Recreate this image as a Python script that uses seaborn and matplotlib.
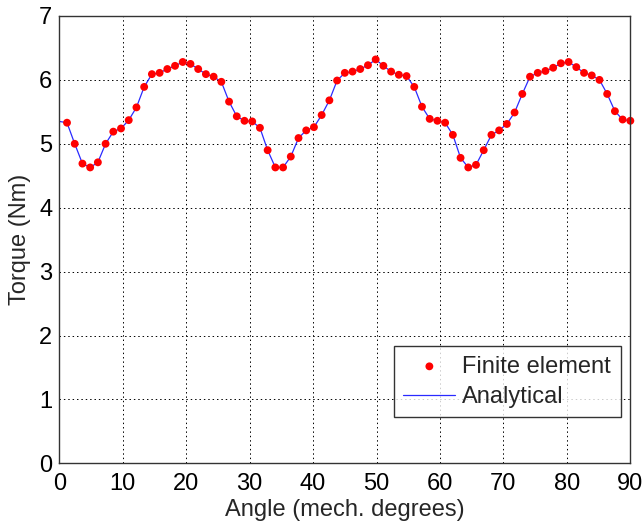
import numpy as np
import pandas as pd
import matplotlib
matplotlib.use("Agg")
import matplotlib.pyplot as plt
import seaborn as sns

# Angles (mech. degrees): 75 samples from 0 to 90
angle = [0.0, 1.216, 2.432, 3.649, 4.865, 6.081, 7.297, 8.514, 9.730, 10.946,
         12.162, 13.378, 14.595, 15.811, 17.027, 18.243, 19.459, 20.676, 21.892, 23.108,
         24.324, 25.541, 26.757, 27.973, 29.189, 30.405, 31.622, 32.838, 34.054, 35.270,
         36.486, 37.703, 38.919, 40.135, 41.351, 42.568, 43.784, 45.000, 46.216, 47.432,
         48.649, 49.865, 51.081, 52.297, 53.514, 54.730, 55.946, 57.162, 58.378, 59.595,
         60.811, 62.027, 63.243, 64.459, 65.676, 66.892, 68.108, 69.324, 70.541, 71.757,
         72.973, 74.189, 75.405, 76.622, 77.838, 79.054, 80.270, 81.486, 82.703, 83.919,
         85.135, 86.351, 87.568, 88.784, 90.0]

torque = [5.35, 5.33, 5.00, 4.69, 4.63, 4.71, 5.00, 5.19, 5.24, 5.37,
          5.57, 5.89, 6.09, 6.11, 6.17, 6.22, 6.28, 6.25, 6.17, 6.09,
          6.05, 5.97, 5.66, 5.43, 5.36, 5.35, 5.25, 4.90, 4.63, 4.63,
          4.80, 5.09, 5.21, 5.26, 5.45, 5.68, 5.99, 6.11, 6.13, 6.17,
          6.23, 6.32, 6.22, 6.13, 6.08, 6.06, 5.89, 5.58, 5.39, 5.36,
          5.33, 5.14, 4.78, 4.63, 4.67, 4.90, 5.14, 5.21, 5.31, 5.49,
          5.78, 6.05, 6.11, 6.14, 6.19, 6.26, 6.28, 6.20, 6.11, 6.07,
          6.00, 5.78, 5.51, 5.38, 5.36]

x_ticks = [0, 10, 20, 30, 40, 50, 60, 70, 80, 90]
y_ticks = [0, 1, 2, 3, 4, 5, 6, 7]

df_line = pd.DataFrame({"angle": angle, "torque": torque})
df_fe = df_line.iloc[1:]

sns.set_theme(style="white")
plt.rcParams['font.family'] = ['Liberation Sans', 'DejaVu Sans']

FS = 17

fig = plt.figure(figsize=(6.43, 5.24), dpi=100)
ax = fig.add_axes([0.0922, 0.1158, 0.8881, 0.8537])

sns.lineplot(data=df_line, x="angle", y="torque", ax=ax, color="#2a2aff",
             linewidth=0.9, label="Analytical", zorder=2, estimator=None, sort=False)
sns.scatterplot(data=df_fe, x="angle", y="torque", ax=ax, color="red",
                s=32, edgecolor="none", label="Finite element", zorder=3,
                clip_on=False)

ax.set_xlim(0, 90)
ax.set_ylim(0, 7)
ax.set_xticks(x_ticks)
ax.set_yticks(y_ticks)
ax.grid(True, color="black", linestyle=(0, (1.5, 3)), linewidth=0.7)
for s in ax.spines.values():
    s.set_visible(True)
    s.set_color("#333333")
    s.set_linewidth(1.0)
    s.set_zorder(4)
ax.tick_params(axis="both", which="both", direction="in", length=0,
               labelsize=FS, colors="black")
ax.tick_params(axis="x", pad=7)
ax.tick_params(axis="y", pad=5)
ax.set_xlabel("Angle (mech. degrees)", fontsize=FS, labelpad=3)
ax.set_ylabel("Torque (Nm)", fontsize=FS, labelpad=6)

handles, labels = ax.get_legend_handles_labels()
order = [labels.index("Finite element"), labels.index("Analytical")]
leg = ax.legend([handles[i] for i in order], [labels[i] for i in order],
                loc="lower right", bbox_to_anchor=(0.983, 0.103), fontsize=FS,
                frameon=True, fancybox=False, edgecolor="black", borderaxespad=0,
                borderpad=0.4, handlelength=2.2, handletextpad=0.3, labelspacing=0.35)
leg.get_frame().set_linewidth(1.0)
leg.set_zorder(5)

fig.savefig("out.png", dpi=100, facecolor="white")
